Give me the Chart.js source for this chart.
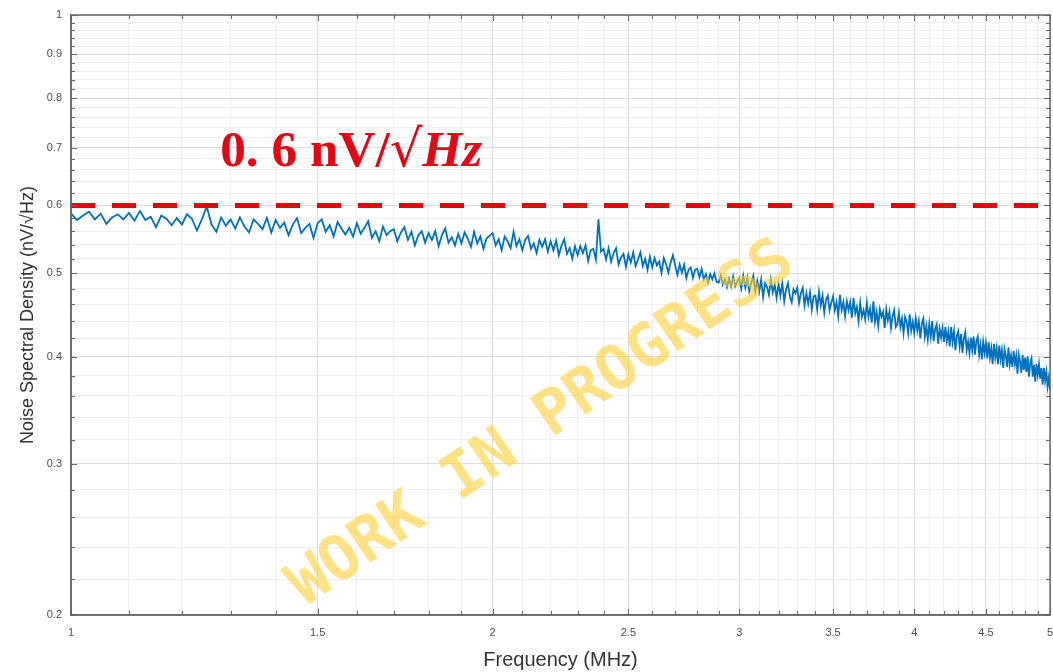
<!DOCTYPE html>
<html>
<head>
<meta charset="utf-8">
<script src="https://cdn.jsdelivr.net/npm/chart.js@4/dist/chart.umd.min.js"></script>
<style>
  html, body { margin: 0; padding: 0; background: #fff; }
  #wrap { width: 1053px; height: 672px; }
</style>
</head>
<body>
<div id="wrap"><canvas id="psd" width="1053" height="672"></canvas></div>
<script>
// measured spectrum, MHz / nV per sqrt(Hz)
const freqMHz = [
  1,1.01,1.02,1.03,1.04,1.05,1.06,1.07,1.08,1.09,1.1,1.11,1.12,1.13,1.14,1.15,1.16,1.17,1.18,1.19,
  1.2,1.21,1.22,1.23,1.24,1.25,1.26,1.27,1.28,1.29,1.3,1.31,1.32,1.33,1.34,1.35,1.36,1.37,1.38,1.39,
  1.4,1.41,1.42,1.43,1.44,1.45,1.46,1.47,1.48,1.49,1.5,1.51,1.52,1.53,1.54,1.55,1.56,1.57,1.58,1.59,
  1.6,1.61,1.62,1.63,1.64,1.65,1.66,1.67,1.68,1.69,1.7,1.71,1.72,1.73,1.74,1.75,1.76,1.77,1.78,1.79,
  1.8,1.81,1.82,1.83,1.84,1.85,1.86,1.87,1.88,1.89,1.9,1.91,1.92,1.93,1.94,1.95,1.96,1.97,1.98,1.99,
  2,2.01,2.02,2.03,2.04,2.05,2.06,2.07,2.08,2.09,2.1,2.11,2.12,2.13,2.14,2.15,2.16,2.17,2.18,2.19,
  2.2,2.21,2.22,2.23,2.24,2.25,2.26,2.27,2.28,2.29,2.3,2.31,2.32,2.33,2.34,2.35,2.36,2.37,2.38,2.39,
  2.4,2.41,2.42,2.43,2.44,2.45,2.46,2.47,2.48,2.49,2.5,2.51,2.52,2.53,2.54,2.55,2.56,2.57,2.58,2.59,
  2.6,2.61,2.62,2.63,2.64,2.65,2.66,2.67,2.68,2.69,2.7,2.71,2.72,2.73,2.74,2.75,2.76,2.77,2.78,2.79,
  2.8,2.81,2.82,2.83,2.84,2.85,2.86,2.87,2.88,2.89,2.9,2.91,2.92,2.93,2.94,2.95,2.96,2.97,2.98,2.99,
  3,3.01,3.02,3.03,3.04,3.05,3.06,3.07,3.08,3.09,3.1,3.11,3.12,3.13,3.14,3.15,3.16,3.17,3.18,3.19,
  3.2,3.21,3.22,3.23,3.24,3.25,3.26,3.27,3.28,3.29,3.3,3.31,3.32,3.33,3.34,3.35,3.36,3.37,3.38,3.39,
  3.4,3.41,3.42,3.43,3.44,3.45,3.46,3.47,3.48,3.49,3.5,3.51,3.52,3.53,3.54,3.55,3.56,3.57,3.58,3.59,
  3.6,3.61,3.62,3.63,3.64,3.65,3.66,3.67,3.68,3.69,3.7,3.71,3.72,3.73,3.74,3.75,3.76,3.77,3.78,3.79,
  3.8,3.81,3.82,3.83,3.84,3.85,3.86,3.87,3.88,3.89,3.9,3.91,3.92,3.93,3.94,3.95,3.96,3.97,3.98,3.99,
  4,4.01,4.02,4.03,4.04,4.05,4.06,4.07,4.08,4.09,4.1,4.11,4.12,4.13,4.14,4.15,4.16,4.17,4.18,4.19,
  4.2,4.21,4.22,4.23,4.24,4.25,4.26,4.27,4.28,4.29,4.3,4.31,4.32,4.33,4.34,4.35,4.36,4.37,4.38,4.39,
  4.4,4.41,4.42,4.43,4.44,4.45,4.46,4.47,4.48,4.49,4.5,4.51,4.52,4.53,4.54,4.55,4.56,4.57,4.58,4.59,
  4.6,4.61,4.62,4.63,4.64,4.65,4.66,4.67,4.68,4.69,4.7,4.71,4.72,4.73,4.74,4.75,4.76,4.77,4.78,4.79,
  4.8,4.81,4.82,4.83,4.84,4.85,4.86,4.87,4.88,4.89,4.9,4.91,4.92,4.93,4.94,4.95,4.96,4.97,4.98,4.99,
  5
];
const noiseDensity = [
  0.587,0.577,0.584,0.590,0.578,0.587,0.571,0.581,0.586,0.578,0.588,0.576,0.591,0.577,0.582,0.566,0.584,0.579,0.569,0.580,
  0.570,0.586,0.579,0.561,0.578,0.598,0.570,0.559,0.581,0.568,0.578,0.564,0.581,0.567,0.558,0.578,0.571,0.563,0.580,0.558,
  0.577,0.565,0.573,0.554,0.570,0.580,0.557,0.565,0.571,0.550,0.572,0.578,0.559,0.569,0.552,0.574,0.564,0.555,0.565,0.552,
  0.572,0.556,0.565,0.575,0.550,0.560,0.545,0.567,0.554,0.560,0.563,0.545,0.558,0.566,0.547,0.559,0.539,0.554,0.560,0.543,
  0.557,0.547,0.560,0.538,0.554,0.564,0.543,0.551,0.539,0.556,0.542,0.558,0.549,0.537,0.559,0.542,0.552,0.534,0.549,0.553,
  0.557,0.539,0.548,0.532,0.552,0.545,0.535,0.559,0.538,0.548,0.532,0.547,0.553,0.534,0.542,0.528,0.547,0.537,0.548,0.530,
  0.545,0.532,0.546,0.525,0.539,0.548,0.527,0.535,0.520,0.538,0.525,0.538,0.528,0.539,0.517,0.532,0.534,0.519,0.578,0.530,
  0.534,0.519,0.535,0.516,0.528,0.535,0.512,0.522,0.527,0.509,0.526,0.515,0.529,0.510,0.519,0.529,0.510,0.520,0.505,0.523,
  0.508,0.521,0.511,0.516,0.501,0.521,0.512,0.501,0.515,0.525,0.511,0.498,0.512,0.501,0.512,0.494,0.505,0.508,0.494,0.505,
  0.506,0.495,0.506,0.492,0.499,0.488,0.499,0.492,0.500,0.489,0.488,0.497,0.485,0.492,0.482,0.493,0.483,0.496,0.483,0.489,
  0.494,0.480,0.497,0.481,0.494,0.476,0.488,0.497,0.477,0.490,0.476,0.492,0.469,0.487,0.482,0.472,0.492,0.475,0.485,0.468,
  0.486,0.471,0.487,0.464,0.479,0.487,0.470,0.463,0.479,0.474,0.481,0.462,0.474,0.481,0.459,0.474,0.461,0.475,0.454,0.470,
  0.471,0.454,0.476,0.459,0.471,0.450,0.466,0.471,0.453,0.462,0.470,0.453,0.463,0.446,0.472,0.453,0.463,0.446,0.464,0.453,
  0.463,0.444,0.468,0.449,0.457,0.440,0.462,0.445,0.453,0.442,0.462,0.445,0.455,0.438,0.464,0.439,0.451,0.434,0.454,0.445,
  0.451,0.432,0.454,0.441,0.451,0.432,0.446,0.453,0.433,0.436,0.450,0.433,0.443,0.426,0.445,0.439,0.426,0.448,0.429,0.439,
  0.426,0.443,0.429,0.440,0.420,0.437,0.443,0.422,0.434,0.419,0.437,0.422,0.440,0.417,0.431,0.436,0.414,0.431,0.421,0.432,
  0.416,0.433,0.417,0.428,0.411,0.433,0.416,0.428,0.407,0.423,0.428,0.411,0.425,0.404,0.420,0.427,0.407,0.416,0.404,0.421,
  0.407,0.422,0.402,0.417,0.422,0.402,0.413,0.397,0.416,0.404,0.415,0.398,0.416,0.399,0.409,0.392,0.414,0.399,0.409,0.392,
  0.412,0.397,0.407,0.388,0.408,0.401,0.389,0.410,0.392,0.401,0.389,0.406,0.392,0.401,0.382,0.402,0.395,0.383,0.402,0.386,
  0.399,0.384,0.400,0.379,0.393,0.398,0.379,0.391,0.374,0.392,0.381,0.392,0.377,0.388,0.371,0.388,0.375,0.384,0.369,0.378,
  0.366
];

// spec limit
const limitFreq = [1, 5];
const limitValue = [0.6, 0.6];
const limitText = ['0. 6 ', 'nV/', '\u221A', 'Hz'];

// axis ticks
const xTicks = [1,1.1,1.2,1.3,1.4,1.5,1.6,1.7,1.8,1.9,2,2.1,2.2,2.3,2.4,2.5,2.6,2.7,2.8,2.9,3,
  3.1,3.2,3.3,3.4,3.5,3.6,3.7,3.8,3.9,4,4.1,4.2,4.3,4.4,4.5,4.6,4.7,4.8,4.9,5];
const xMajor = [1,1.5,2,2.5,3,3.5,4,4.5,5];
const yTicks = [0.2,0.22,0.24,0.26,0.28,0.3,0.32,0.34,0.36,0.38,0.4,0.42,0.44,0.46,0.48,0.5,
  0.52,0.54,0.56,0.58,0.6,0.62,0.64,0.66,0.68,0.7,0.72,0.74,0.76,0.78,0.8,0.82,0.84,0.86,0.88,
  0.9,0.92,0.94,0.96,0.98,1];
const yMajor = [0.2,0.3,0.4,0.5,0.6,0.7,0.8,0.9,1];

const watermark = 'WORK IN PROGRESS';

const isMajor = (list, v) => list.some(m => Math.abs(m - v) < 1e-6);

// MATLAB style box with inward ticks
const framePlugin = {
  id: 'frame',
  afterDatasetsDraw(chart) {
    const { ctx, chartArea: a, scales: { x, y } } = chart;
    ctx.save();
    ctx.strokeStyle = '#666';
    ctx.lineWidth = 1;
    ctx.beginPath();
    x.ticks.forEach(t => {
      const px = Math.round(x.getPixelForValue(t.value)) + 0.5;
      const len = isMajor(xMajor, t.value) ? 6 : 4;
      ctx.moveTo(px, a.bottom); ctx.lineTo(px, a.bottom - len);
      ctx.moveTo(px, a.top); ctx.lineTo(px, a.top + len);
    });
    y.ticks.forEach(t => {
      const py = Math.round(y.getPixelForValue(t.value)) + 0.5;
      const len = isMajor(yMajor, t.value) ? 6 : 4;
      ctx.moveTo(a.left, py); ctx.lineTo(a.left + len, py);
      ctx.moveTo(a.right, py); ctx.lineTo(a.right - len, py);
    });
    ctx.stroke();
    ctx.lineWidth = 1.5;
    ctx.strokeRect(a.left, a.top, a.right - a.left, a.bottom - a.top);
    ctx.restore();
  }
};

// red label and the watermark
const notesPlugin = {
  id: 'notes',
  afterDraw(chart) {
    const { ctx, scales: { x, y } } = chart;
    ctx.save();

    // limit label, fitted to its width in the original
    const fonts = [
      s => `bold ${s}px "Liberation Serif"`,
      s => `bold ${s}px "Liberation Serif"`,
      s => `${s}px "DejaVu Serif"`,
      s => `italic bold ${s}px "Liberation Serif"`
    ];
    let total = 0;
    limitText.forEach((t, i) => { ctx.font = fonts[i](40); total += ctx.measureText(t).width; });
    const size = 40 * 262 / total;
    let lx = x.getPixelForValue(1.278);
    const ly = y.getPixelForValue(0.667);
    ctx.fillStyle = '#e30613';
    ctx.textBaseline = 'alphabetic';
    limitText.forEach((t, i) => {
      ctx.font = fonts[i](size);
      ctx.fillText(t, lx, ly);
      lx += ctx.measureText(t).width;
    });

    // watermark
    ctx.translate(x.getPixelForValue(2.17), y.getPixelForValue(0.333));
    ctx.rotate(-34.5 * Math.PI / 180);
    ctx.font = 'bold 62px "DejaVu Sans Mono"';
    ctx.textAlign = 'center';
    ctx.textBaseline = 'middle';
    ctx.fillStyle = 'rgba(255, 207, 60, 0.62)';
    ctx.fillText(watermark, 0, 0);
    ctx.restore();
  }
};

const tickFont = { family: '"Liberation Sans", Arial, sans-serif', size: 11 };

new Chart(document.getElementById('psd'), {
  type: 'line',
  data: {
    datasets: [
      {
        label: 'limit',
        data: limitFreq.map((f, i) => ({ x: f, y: limitValue[i] })),
        borderColor: '#e8000b',
        borderWidth: 5,
        borderDash: [24, 17],
        pointRadius: 0
      },
      {
        label: 'noise',
        data: freqMHz.map((f, i) => ({ x: f, y: noiseDensity[i] })),
        borderColor: '#0072bd',
        borderWidth: 1.8,
        pointRadius: 0,
        tension: 0
      }
    ]
  },
  options: {
    responsive: false,
    animation: false,
    layout: { padding: { top: 15, right: 3, left: 0, bottom: 0 } },
    plugins: { legend: { display: false }, tooltip: { enabled: false } },
    scales: {
      x: {
        type: 'logarithmic',
        min: 1,
        max: 5,
        afterBuildTicks: s => { s.ticks = xTicks.map(v => ({ value: v })); },
        afterFit: s => { s.height = 57; s.paddingLeft = 0; s.paddingRight = 0; },
        grid: {
          drawTicks: false,
          color: c => isMajor(xMajor, c.tick.value) ? '#dcdcdc' : '#efefef'
        },
        border: { color: '#666', width: 1.5 },
        ticks: {
          autoSkip: false,
          maxRotation: 0,
          padding: 11,
          color: '#4d4d4d',
          font: tickFont,
          callback: v => isMajor(xMajor, v) ? String(+v.toFixed(1)) : ''
        },
        title: {
          display: true,
          text: 'Frequency (MHz)',
          color: '#333',
          font: { family: '"Liberation Sans", Arial, sans-serif', size: 20 },
          padding: { top: 0, bottom: 0 }
        }
      },
      y: {
        type: 'logarithmic',
        min: 0.2,
        max: 1,
        afterBuildTicks: s => { s.ticks = yTicks.map(v => ({ value: v })); },
        afterFit: s => { s.width = 71; s.paddingTop = 0; s.paddingBottom = 0; },
        grid: {
          drawTicks: false,
          color: c => isMajor(yMajor, c.tick.value) ? '#dcdcdc' : '#efefef'
        },
        border: { color: '#666', width: 1.5 },
        ticks: {
          autoSkip: false,
          padding: 9,
          color: '#4d4d4d',
          font: tickFont,
          callback: v => isMajor(yMajor, v) ? String(+v.toFixed(1)) : ''
        },
        title: {
          display: true,
          text: 'Noise Spectral Density (nV/\u221AHz)',
          color: '#333',
          font: { family: '"Liberation Sans", Arial, sans-serif', size: 18 },
          padding: { top: 17, bottom: 0 }
        }
      }
    }
  },
  plugins: [framePlugin, notesPlugin]
});
</script>
</body>
</html>
